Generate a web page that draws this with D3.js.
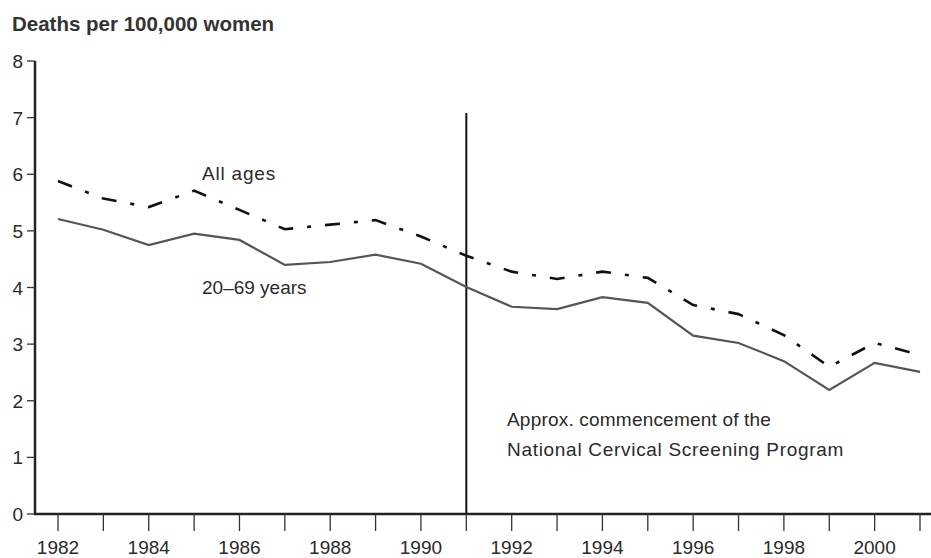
<!DOCTYPE html>
<html>
<head>
<meta charset="utf-8">
<script src="https://cdn.jsdelivr.net/npm/d3@7"></script>
<style>
  body { margin: 0; background: #fff; }
  text { font-family: "Liberation Sans", Arial, sans-serif; fill: #2a2a2a; }
</style>
</head>
<body>
<div id="chart"></div>
<script>
// values
let years = d3.range(1982, 2002);
let allAges = [5.88, 5.57, 5.42, 5.71, 5.37, 5.03, 5.11, 5.19, 4.90, 4.56,
               4.28, 4.15, 4.28, 4.17, 3.69, 3.53, 3.16, 2.60, 3.02, 2.81];
let age20to69 = [5.21, 5.02, 4.75, 4.95, 4.84, 4.40, 4.45, 4.58, 4.42, 4.01,
                 3.66, 3.62, 3.83, 3.73, 3.15, 3.02, 2.70, 2.19, 2.67, 2.51];
let yTicks = [0, 1, 2, 3, 4, 5, 6, 7, 8];
let xTickLabels = [1982, 1984, 1986, 1988, 1990, 1992, 1994, 1996, 1998, 2000];
let programYear = 1991;
let programTop = 7.08;

let width = 931, height = 558;

let x = d3.scaleLinear().domain([1982, 2001]).range([58, 920]);
let y = d3.scaleLinear().domain([0, 8]).range([514, 61]);

let svg = d3.select("#chart").append("svg")
  .attr("width", width)
  .attr("height", height);

// title
svg.append("text")
  .attr("x", 12).attr("y", 31)
  .style("font-size", "20.5px")
  .style("font-weight", "bold")
  .style("fill", "#333")
  .text("Deaths per 100,000 women");

// y axis
let yAxis = svg.append("g").attr("transform", "translate(35,0)");
yAxis.append("line")
  .attr("x1", 0).attr("x2", 0)
  .attr("y1", y(8)).attr("y2", y(0) + 1)
  .attr("stroke", "#222").attr("stroke-width", 2.5);
yAxis.selectAll(".ytick").data(yTicks).enter().append("line")
  .attr("x1", -8).attr("x2", 0)
  .attr("y1", d => y(d)).attr("y2", d => y(d))
  .attr("stroke", "#333").attr("stroke-width", 1.3);
yAxis.selectAll(".ylab").data(yTicks).enter().append("text")
  .attr("x", -12).attr("y", d => y(d) + 7)
  .attr("text-anchor", "end")
  .style("font-size", "19px")
  .text(d => d);

// x axis
let xAxis = svg.append("g").attr("transform", "translate(0," + y(0) + ")");
xAxis.append("line")
  .attr("x1", 34).attr("x2", width)
  .attr("y1", 0).attr("y2", 0)
  .attr("stroke", "#222").attr("stroke-width", 2.5);
xAxis.selectAll(".xtick").data(years).enter().append("line")
  .attr("x1", d => x(d)).attr("x2", d => x(d))
  .attr("y1", 0).attr("y2", 17)
  .attr("stroke", "#333").attr("stroke-width", 1.3);
xAxis.selectAll(".xlab").data(xTickLabels).enter().append("text")
  .attr("x", d => x(d)).attr("y", 40)
  .attr("text-anchor", "middle")
  .style("font-size", "19px")
  .text(d => d);

// program line
svg.append("line")
  .attr("x1", x(programYear)).attr("x2", x(programYear))
  .attr("y1", y(programTop)).attr("y2", y(0))
  .attr("stroke", "#111").attr("stroke-width", 2);

let line = d3.line()
  .x((d, i) => x(years[i]))
  .y(d => y(d));

svg.append("path")
  .datum(age20to69)
  .attr("d", line)
  .attr("fill", "none")
  .attr("stroke", "#555")
  .attr("stroke-width", 2.2)
  .attr("stroke-linejoin", "miter");

svg.append("path")
  .datum(allAges)
  .attr("d", line)
  .attr("fill", "none")
  .attr("stroke", "#111")
  .attr("stroke-width", 2.6)
  .attr("stroke-dasharray", "15,14,4,14");

// labels
svg.append("text")
  .attr("x", 202).attr("y", 180)
  .style("font-size", "19px")
  .style("letter-spacing", "0.8px")
  .text("All ages");
svg.append("text")
  .attr("x", 202).attr("y", 294)
  .style("font-size", "19px")
  .text("20–69 years");
svg.append("text")
  .attr("x", 507).attr("y", 426)
  .style("font-size", "19px")
  .style("letter-spacing", "0.2px")
  .text("Approx. commencement of the");
svg.append("text")
  .attr("x", 507).attr("y", 456)
  .style("font-size", "19px")
  .style("letter-spacing", "0.7px")
  .text("National Cervical Screening Program");
</script>
</body>
</html>
